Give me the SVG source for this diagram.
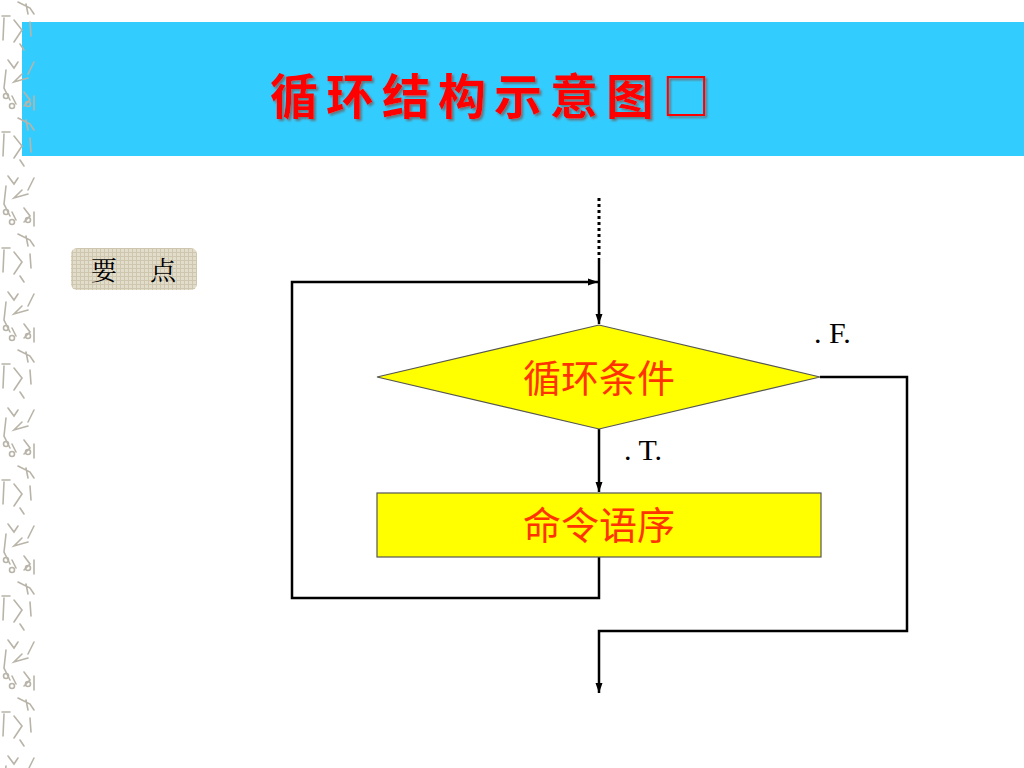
<svg xmlns="http://www.w3.org/2000/svg" width="1024" height="768" viewBox="0 0 1024 768">
<defs>
  <pattern id="strip" x="0" y="0" width="40" height="116" patternUnits="userSpaceOnUse">
    <g fill="none" stroke="#b8b4a8" stroke-width="1.6" stroke-linecap="round">
      <path d="M2 16 L10 16 M4 18 L3 40 M14 20 L22 30 L14 42 M30 22 L31 36 M20 44 L24 50"/>
      <path d="M8 60 L14 68 L18 62 M22 74 L14 82 L28 78 M34 62 L28 74 M6 70 L4 88 L10 100 M12 96 L16 104 M24 92 L30 100 L24 106 M34 96 L34 110"/>
      <circle cx="6" cy="96" r="2.5"/>
      <circle cx="12" cy="106" r="2.5"/>
      <circle cx="28" cy="104" r="2.5"/>
      <path d="M18 2 L30 8 L34 14 M26 4 L28 14"/>
    </g>
  </pattern>
  <pattern id="linen" x="0" y="0" width="4" height="4" patternUnits="userSpaceOnUse">
    <rect width="4" height="4" fill="#e2dccb"/>
    <path d="M0 0.5 H4 M0.5 0 V4" stroke="#cfc6b0" stroke-width="1"/>
  </pattern>
  <marker id="arr" viewBox="0 0 10 10" refX="10" refY="5" markerWidth="10" markerHeight="10" markerUnits="userSpaceOnUse" orient="auto">
    <path d="M0 1.5 L10 5 L0 8.5 Z" fill="#000"/>
  </marker>
  <filter id="shadow" x="-5%" y="-20%" width="110%" height="140%">
    <feDropShadow dx="2" dy="2" stdDeviation="0.8" flood-color="#666" flood-opacity="0.8"/>
  </filter>
  <style>
    .ln { fill: none; stroke: #000; stroke-width: 2.5; }
    .shape { fill: #ffff00; stroke: #555; stroke-width: 1.2; }
    .cn { font-family: "Noto Sans CJK SC", "Noto Sans", sans-serif; font-size: 38px; fill: #ff3300; text-anchor: middle; }
    .lbl { font-family: "Liberation Serif", "DejaVu Serif", serif; font-size: 30px; fill: #000; }
  </style>
</defs>

<rect width="1024" height="768" fill="#ffffff"/>

<g id="banner">
  <rect x="22" y="22" width="1002" height="134" fill="#33ccff"/>
  <text x="270" y="114" font-family="Noto Sans CJK SC, sans-serif" font-weight="bold" font-size="48" letter-spacing="8" fill="#ff0000" filter="url(#shadow)">循环结构示意图□</text>
</g>

<rect id="strip-deco" x="0" y="0" width="40" height="768" fill="url(#strip)"/>

<g id="keypoint">
  <rect x="71" y="248" width="126" height="42" rx="6" fill="url(#linen)"/>
  <text x="91" y="280" font-family="Noto Serif CJK SC, Noto Sans CJK SC, serif" font-size="26" fill="#000">要</text>
  <text x="150" y="280" font-family="Noto Serif CJK SC, Noto Sans CJK SC, serif" font-size="26" fill="#000">点</text>
</g>

<g id="connectors">
  <line x1="599" y1="198" x2="599" y2="258" stroke="#000" stroke-width="3" stroke-dasharray="3,3"/>
  <line class="ln" x1="599" y1="258" x2="599" y2="324" marker-end="url(#arr)"/>
  <polyline class="ln" points="599,557 599,598 292,598 292,282 598,282" marker-end="url(#arr)"/>
  <line class="ln" x1="599" y1="429" x2="599" y2="492" marker-end="url(#arr)"/>
  <polyline class="ln" points="820,377 907,377 907,631 599,631 599,693" marker-end="url(#arr)"/>
</g>

<g id="condition">
  <polygon class="shape" points="377,377 599,325 820,377 599,429"/>
  <text class="cn" x="599" y="392">循环条件</text>
</g>

<g id="statement">
  <rect class="shape" x="377" y="493" width="444" height="64"/>
  <text class="cn" x="599" y="539">命令语序</text>
</g>

<g id="labels">
  <text class="lbl" x="624" y="460">. T.</text>
  <text class="lbl" x="814" y="343">. F.</text>
</g>
</svg>
